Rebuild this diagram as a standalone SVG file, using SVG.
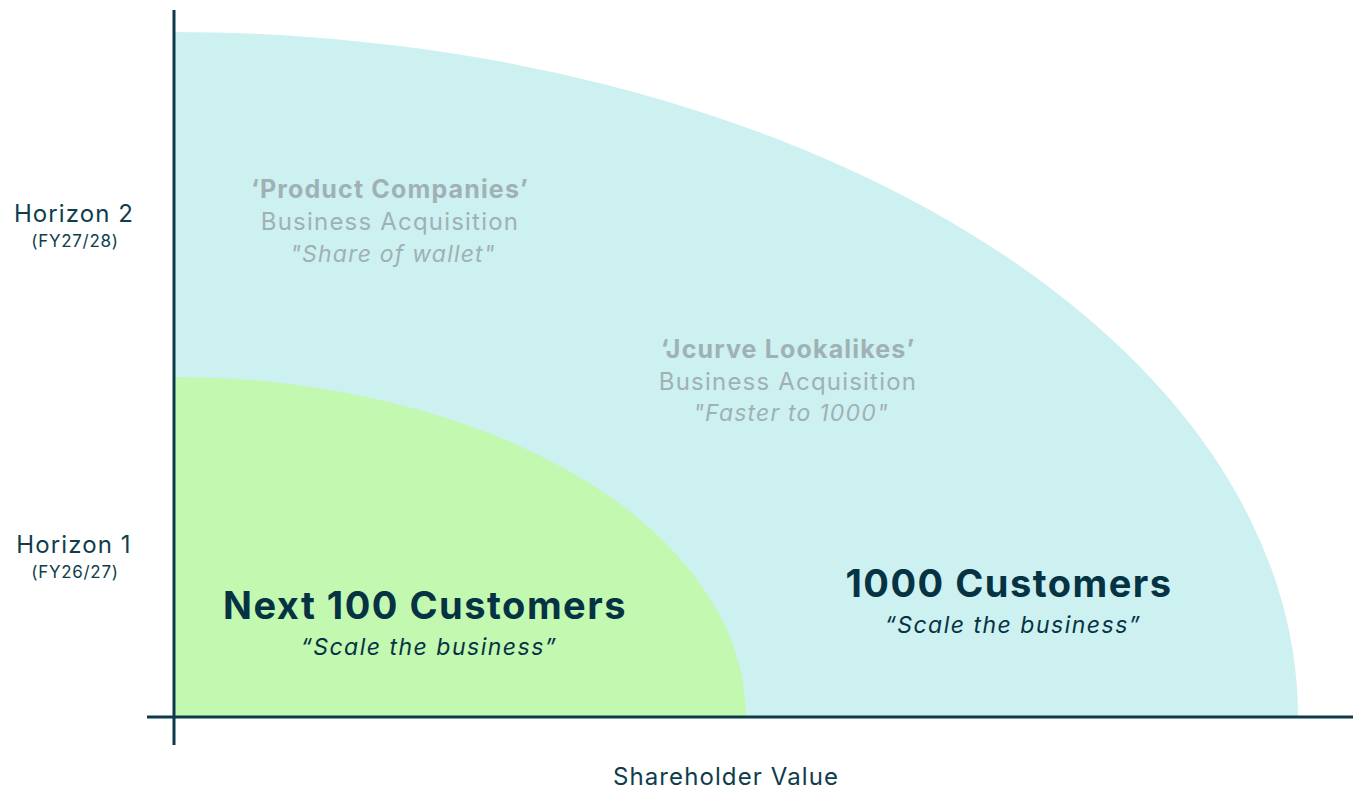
<svg xmlns="http://www.w3.org/2000/svg" width="1353" height="791" viewBox="0 0 1353 791">
<style>
text{font-family:Inter,"Noto Sans","Liberation Sans",sans-serif;}
.lab{fill:#0f3d4c;font-size:24px;letter-spacing:1.1px;text-anchor:middle;}
.sub{fill:#0f3d4c;font-size:17px;letter-spacing:0.7px;text-anchor:middle;}
.gb{fill:#9fb1b5;font-size:25px;font-weight:700;letter-spacing:1.15px;text-anchor:middle;}
.g{fill:#9fb1b5;font-size:24px;letter-spacing:1.2px;text-anchor:middle;}
.gi{fill:#9fb1b5;font-size:23px;font-style:italic;letter-spacing:1.2px;text-anchor:middle;}
.big{fill:#063344;font-size:38px;font-weight:700;letter-spacing:1.5px;text-anchor:middle;}
.it{fill:#063344;font-size:23px;font-style:italic;letter-spacing:1.5px;text-anchor:middle;}
.axis{stroke:#0d3a4a;stroke-width:3;fill:none;}
</style>
<rect width="1353" height="791" fill="#ffffff"/>
<g id="h2-region">
<path d="M174,717 L174,32 A1124,685 0 0 1 1298,717 Z" fill="#cdf0f0"/>
</g>
<g id="h1-region">
<path d="M174,717 L174,377 A572,340 0 0 1 746,717 Z" fill="#c3f8b0"/>
</g>
<g id="connectors">
<line class="axis" x1="174" y1="10" x2="174" y2="745"/>
<line class="axis" x1="147" y1="717" x2="1353" y2="717"/>
</g>
<g id="horizon2-label">
<text class="lab" x="74" y="222">Horizon 2</text>
<text class="sub" x="75" y="247">(FY27/28)</text>
</g>
<g id="horizon1-label">
<text class="lab" x="74" y="553">Horizon 1</text>
<text class="sub" x="75" y="578">(FY26/27)</text>
</g>
<g id="product-companies">
<text class="gb" x="390" y="198">‘Product Companies’</text>
<text class="g" x="390" y="230">Business Acquisition</text>
<text class="gi" x="393" y="262">"Share of wallet"</text>
</g>
<g id="jcurve-lookalikes">
<text class="gb" x="788" y="358">‘Jcurve Lookalikes’</text>
<text class="g" x="788" y="390">Business Acquisition</text>
<text class="gi" x="791" y="421">"Faster to 1000"</text>
</g>
<g id="next100">
<text class="big" x="425" y="619">Next 100 Customers</text>
<text class="it" x="429" y="655">“Scale the business”</text>
</g>
<g id="c1000">
<text class="big" x="1009" y="597">1000 Customers</text>
<text class="it" x="1013" y="633">“Scale the business”</text>
</g>
<g id="x-axis-label">
<text class="lab" x="726" y="785">Shareholder Value</text>
</g>
</svg>
